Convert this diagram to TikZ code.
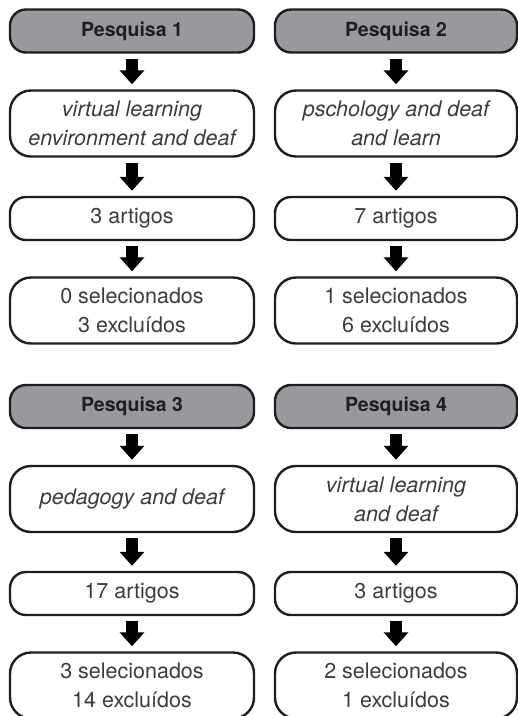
\documentclass[tikz,border=0pt]{standalone}
\usepackage{fontspec}
\setmainfont{TeX Gyre Heros}
\usetikzlibrary{arrows.meta}
\definecolor{hdrgray}{RGB}{152,153,158}
\definecolor{ink}{RGB}{30,30,30}
\definecolor{txt}{RGB}{60,60,60}
\tikzset{
  box/.style={draw=ink, line width=2.4pt, rounded corners=16pt, fill=white,
    minimum height=43pt, align=center, text=txt, inner sep=0pt,
    font=\fontsize{21.5}{29}\selectfont},
  lbox/.style={box, minimum width=244pt},
  rbox/.style={box, minimum width=242pt},
  hdr/.style={fill=hdrgray, text=ink, font=\fontsize{19.5}{24}\selectfont\bfseries},
  tall/.style={minimum height=66pt, rounded corners=21pt},
  qry/.style={font=\fontsize{21.5}{29}\selectfont\itshape},
  flow/.style={line width=12pt, draw=black,
    -{Triangle[width=24pt,length=14pt]}, shorten <=5pt, shorten >=5pt},
}
\begin{document}
\begin{tikzpicture}[x=1pt,y=-1pt]
\useasboundingbox (0,0) rectangle (518,716);
% Pesquisa 1
\node[lbox,hdr] (p1) at (132,31) {Pesquisa 1};
\node[lbox,tall,qry] (q1) at (132,123.5) {virtual learning\\environment and deaf};
\node[lbox] (a1) at (132,218.5) {3 artigos};
\node[lbox,tall] (r1) at (132,310.5) {0 selecionados\\3 excluídos};
% Pesquisa 2
\node[rbox,hdr] (p2) at (396,31) {Pesquisa 2};
\node[rbox,tall,qry] (q2) at (396,123.5) {pschology and deaf\\and learn};
\node[rbox] (a2) at (396,218.5) {7 artigos};
\node[rbox,tall] (r2) at (396,310.5) {1 selecionados\\6 excluídos};
% Pesquisa 3
\node[lbox,hdr] (p3) at (132,406.5) {Pesquisa 3};
\node[lbox,tall,qry] (q3) at (132,499) {pedagogy and deaf};
\node[lbox] (a3) at (132,593.5) {17 artigos};
\node[lbox,tall] (r3) at (132,685.5) {3 selecionados\\14 excluídos};
% Pesquisa 4
\node[rbox,hdr] (p4) at (396,406.5) {Pesquisa 4};
\node[rbox,tall,qry] (q4) at (396,499) {virtual learning\\and deaf};
\node[rbox] (a4) at (396,593.5) {3 artigos};
\node[rbox,tall] (r4) at (396,685.5) {2 selecionados\\1 excluídos};
% arrows
\foreach \c in {1,2,3,4}{
  \draw[flow] (p\c) -- (q\c);
  \draw[flow] (q\c) -- (a\c);
  \draw[flow] (a\c) -- (r\c);
}
\end{tikzpicture}
\end{document}
